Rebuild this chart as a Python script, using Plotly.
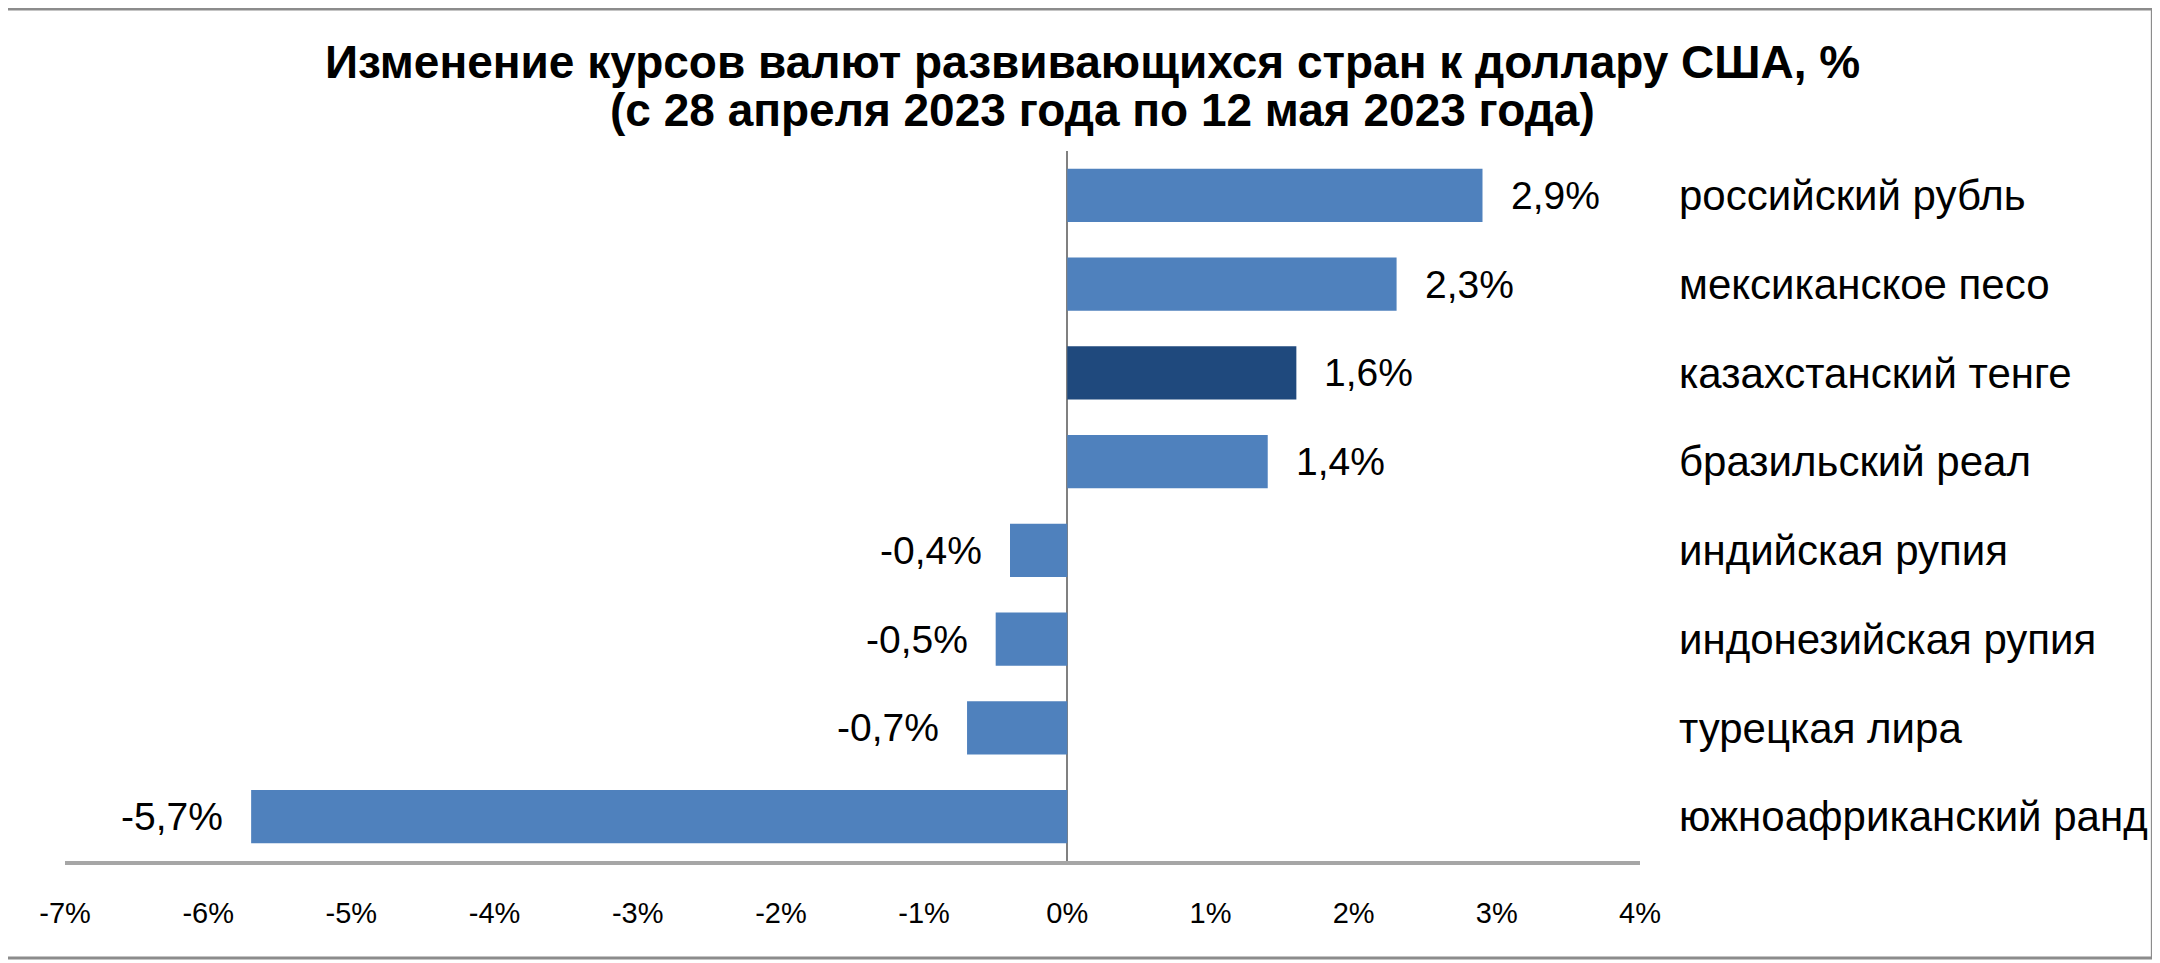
import plotly.graph_objects as go

# данные: изменение курсов валют к доллару США, %
currencies = [
    "российский рубль",
    "мексиканское песо",
    "казахстанский тенге",
    "бразильский реал",
    "индийская рупия",
    "индонезийская рупия",
    "турецкая лира",
    "южноафриканский ранд",
]
change_pct = [2.9, 2.3, 1.6, 1.4, -0.4, -0.5, -0.7, -5.7]
highlight = "казахстанский тенге"

tick_vals = [-7, -6, -5, -4, -3, -2, -1, 0, 1, 2, 3, 4]
tick_text = ["-7%", "-6%", "-5%", "-4%", "-3%", "-2%", "-1%", "0%", "1%", "2%", "3%", "4%"]

title_1 = "Изменение курсов валют развивающихся стран к доллару США, %"
title_2 = "(с 28 апреля 2023 года по 12 мая 2023 года)"

# страница браузера добавляет отступ 8px у body, поэтому всё сдвигаем
OFF = 8
W, H = 2160 - OFF, 963 - OFF
ML, MR, MT, MB = 65 - OFF, 518, 151 - OFF, 102
pw, ph = W - ML - MR, H - MT - MB


def px_x(p):
    return (p - OFF - ML) / pw


def px_y(p):
    return (H - MB - (p - OFF)) / ph


bar_colors = ["#1F497D" if c == highlight else "#4F81BD" for c in currencies]
labels = [("%.1f%%" % v).replace(".", ",") for v in change_pct]

fig = go.Figure(go.Bar(
    x=change_pct,
    y=currencies,
    orientation="h",
    marker=dict(color=bar_colors, line=dict(width=0)),
    hoverinfo="skip",
))

# подписи значений рядом с концами столбцов
for c, v, t in zip(currencies, change_pct, labels):
    fig.add_annotation(
        x=v, y=c, text=t, showarrow=False,
        xanchor="left" if v >= 0 else "right",
        xshift=26 if v >= 0 else -26,
        font=dict(size=39, color="#000000"),
    )

# заголовок в две строки
fig.add_annotation(
    text="<b>%s</b>" % title_1, showarrow=False,
    xref="paper", yref="paper", x=px_x(1094), y=px_y(62),
    xanchor="center", yanchor="middle",
    font=dict(size=46, color="#000000"),
)
fig.add_annotation(
    text="<b>%s</b>" % title_2, showarrow=False,
    xref="paper", yref="paper", x=px_x(1104), y=px_y(110),
    xanchor="center", yanchor="middle",
    font=dict(size=46, color="#000000"),
)

# рамка вокруг всей диаграммы
fig.add_shape(
    type="rect", xref="paper", yref="paper",
    x0=px_x(5), x1=px_x(2155),
    y0=px_y(958), y1=px_y(9),
    line=dict(color="#8C8C8C", width=3),
)

fig.update_layout(
    width=W, height=H,
    margin=dict(l=ML, r=MR, t=MT, b=MB),
    paper_bgcolor="white",
    plot_bgcolor="white",
    font=dict(family="Liberation Sans, Arial, sans-serif", color="#000000"),
    bargap=0.4,
    showlegend=False,
)

fig.update_xaxes(
    range=[-7, 4],
    tickvals=tick_vals,
    ticktext=tick_text,
    tickfont=dict(size=29),
    showgrid=False,
    zeroline=True, zerolinecolor="#808080", zerolinewidth=2,
    showline=True, linecolor="#A6A6A6", linewidth=4,
    ticks="",
    ticklabelstandoff=23,
    fixedrange=True,
)
fig.update_yaxes(
    side="right",
    autorange="reversed",
    tickfont=dict(size=42),
    showgrid=False,
    showline=False,
    ticks="",
    ticklabelstandoff=38,
    fixedrange=True,
)

fig.write_html("out.html")
